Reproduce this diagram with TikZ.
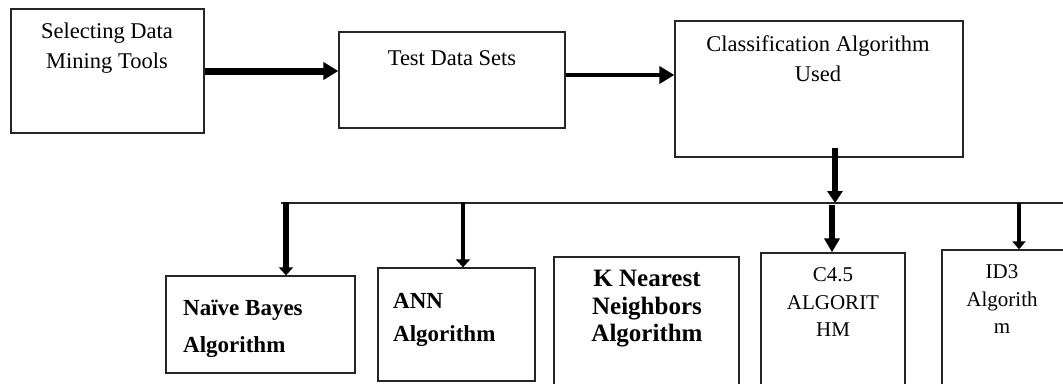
\documentclass[tikz,border=0pt]{standalone}
\usepackage{fontspec}
\setmainfont{Liberation Serif}
\usetikzlibrary{arrows.meta}
\tikzset{
  box/.style={draw=black!85, line width=1.3pt, inner sep=0pt, rectangle},
  txt/.style={inner sep=0pt, align=center, font=\fontsize{22.5}{30}\selectfont},
  btxt/.style={inner sep=0pt, font=\bfseries\fontsize{23}{37}\selectfont},
  thin/.style={draw=black!85, line width=1.3pt},
  arrA/.style={line width=7pt, -{Triangle[length=15pt,width=17pt]}},
  arrB/.style={line width=4pt, -{Triangle[length=15pt,width=17pt]}},
  arrD/.style={line width=5.5pt, -{Triangle[length=12pt,width=15pt]}},
}
\begin{document}
\begin{tikzpicture}[x=1pt,y=-1pt]
\clip (0,0) rectangle (1063,383);
\fill[white] (0,0) rectangle (1063,383);
% top row boxes
\node[box, minimum width=193pt, minimum height=124pt] (b1) at (107.5,71) {};
\node[box, minimum width=226pt, minimum height=96pt] (b2) at (452,80) {};
\node[box, minimum width=288pt, minimum height=136pt] (b3) at (819,89) {};
% bottom row boxes
\node[box, minimum width=189pt, minimum height=97pt] (nb) at (260.5,324.5) {};
\node[box, minimum width=157pt, minimum height=113pt] (ann) at (456.5,324.5) {};
\node[box, minimum width=185pt, minimum height=150pt] (knn) at (646.5,332) {};
\node[box, minimum width=144pt, minimum height=150pt] (c45) at (833,328) {};
\node[box, minimum width=160pt, minimum height=150pt] (id3) at (1022,325) {};
% texts
\node[txt] (t1) at (107,48.5) {Selecting Data\\Mining Tools};
\node[txt] (t2) at (452,58) {Test Data Sets};
\node[txt] (t3) at (818,58.5) {Classification Algorithm\\Used};
\node[btxt, align=left, anchor=west] (tnb) at (183,328.5) {Naïve Bayes\\Algorithm};
\node[btxt, align=left, anchor=west, font=\bfseries\fontsize{23}{33}\selectfont] (tann) at (393,319.5) {ANN\\Algorithm};
\node[btxt, align=center, font=\bfseries\fontsize{25}{27.5}\selectfont] (tknn) at (647,309) {K Nearest\\Neighbors\\Algorithm};
\node[txt, font=\fontsize{21}{27.5}\selectfont] (tc45) at (833,302.5) {C4.5\\ALGORIT\\HM};
\node[txt, font=\fontsize{21}{27.5}\selectfont] (tid3) at (1002,299.5) {ID3\\Algorith\\m};
% connectors top row
\draw[arrA] (b1.east) -- (b2.west |- b1.east);
\coordinate (s2) at ([yshift=5pt]b2.east);
\draw[arrB] (s2) -- (b3.west |- s2);
% bar
\coordinate (barL) at (281,203);
\coordinate (barR) at (1063,203);
\draw[thin] (barL) -- (barR);
\coordinate (s3) at ([xshift=16pt,yshift=10pt]b3.south);
\draw[arrD] (s3) -- (s3 |- barL);
% drops
\coordinate (jN) at (286,202);
\coordinate (jA) at (463,202);
\coordinate (jC) at (832,205);
\coordinate (jI) at (1019,203);
\draw[line width=6.5pt, -{Triangle[length=8pt,width=14pt]}] (jN) -- (jN |- nb.north);
\draw[line width=4.5pt, -{Triangle[length=8pt,width=14pt]}] (jA) -- (jA |- ann.north);
\draw[line width=6pt, -{Triangle[length=14pt,width=15pt]}] (jC) -- (jC |- c45.north);
\draw[line width=4.5pt, -{Triangle[length=8pt,width=13pt]}] (jI) -- (jI |- id3.north);
\end{tikzpicture}
\end{document}
